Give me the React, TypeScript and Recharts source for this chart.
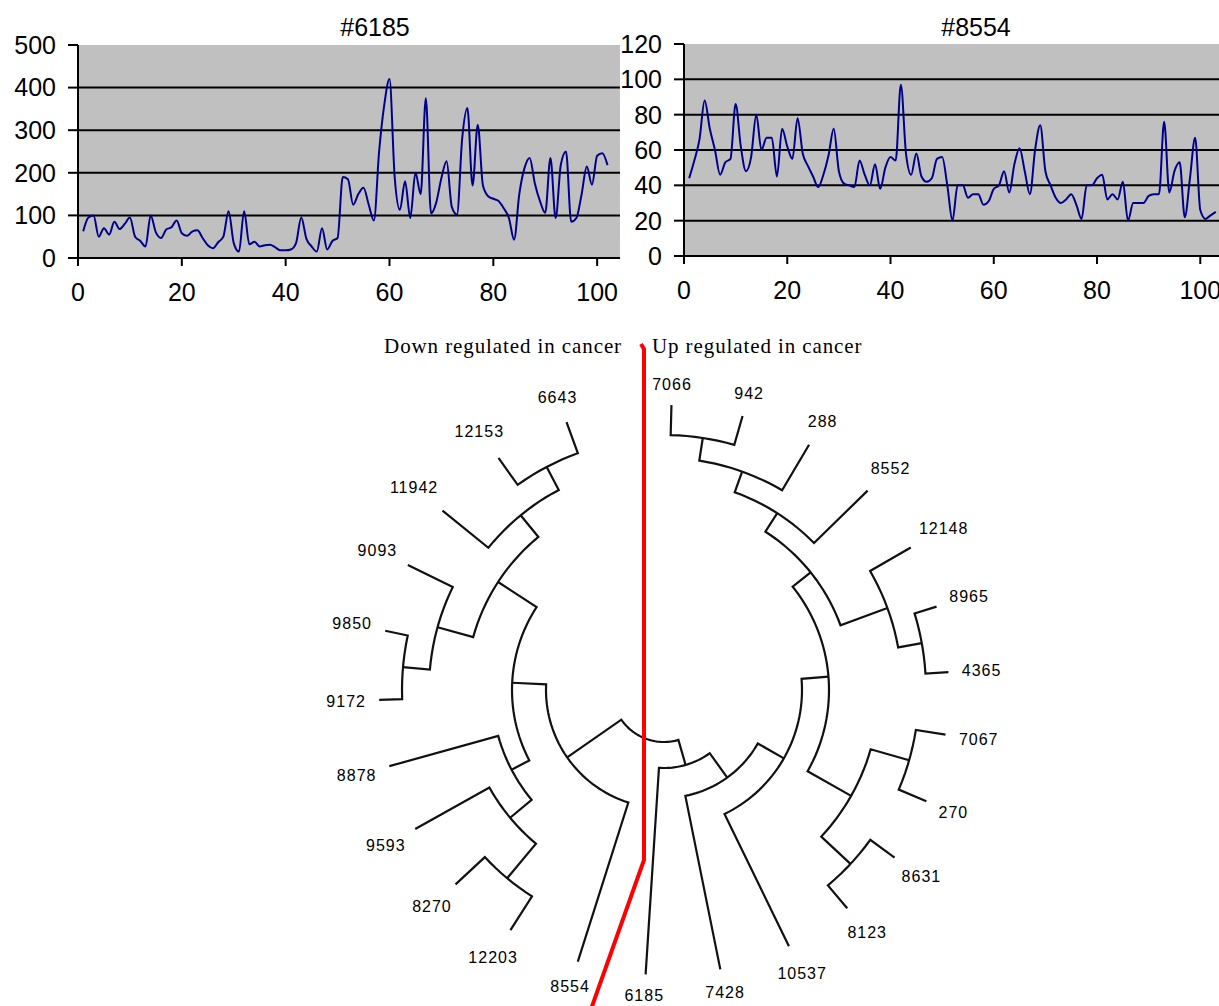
import React from "react";
import {
  LineChart,
  Line,
  XAxis,
  YAxis,
  CartesianGrid,
  ScatterChart,
  Scatter,
} from "recharts";

// profile values, one per position (1..n)
const PROFILE_6185 = [
  63, 95, 100, 50, 70, 55, 85, 68, 80, 95,
  50, 40, 27, 100, 60, 47, 67, 72, 88, 58,
  52, 62, 65, 47, 30, 23, 37, 50, 110, 35,
  15, 110, 32, 38, 27, 30, 31, 25, 18, 18,
  20, 35, 95, 45, 27, 15, 70, 20, 40, 47,
  190, 185, 125, 150, 165, 125, 88, 250, 360, 420,
  190, 113, 180, 94, 200, 150, 375, 105, 130, 188,
  227, 120, 102, 280, 352, 170, 313, 170, 145, 139,
  134, 117, 94, 43, 150, 211, 235, 175, 133, 106,
  235, 94, 219, 250, 85, 94, 149, 215, 172, 240,
  246, 218,
];

const PROFILE_8554 = [
  44, 54, 66, 88, 72, 60, 46, 53, 55, 86,
  62, 48, 56, 80, 60, 67, 67, 45, 72, 62,
  55, 78, 58, 51, 45, 39, 46, 57, 72, 48,
  41, 40, 39, 54, 46, 40, 52, 38, 50, 56,
  54, 97, 58, 46, 58, 45, 42, 44, 55, 56,
  40, 20, 40, 40, 33, 35, 35, 29, 31, 38,
  40, 48, 36, 52, 61, 48, 35, 60, 74, 48,
  40, 33, 30, 32, 35, 29, 21, 40, 40, 44,
  46, 32, 35, 32, 42, 20, 30, 30, 30, 34,
  35, 35, 76, 36, 48, 53, 22, 44, 67, 26,
  21, 23, 25,
];

const X_TICKS = [0, 20, 40, 60, 80, 100];
const Y_TICKS_6185 = [0, 100, 200, 300, 400, 500];
const Y_TICKS_8554 = [0, 20, 40, 60, 80, 100, 120];

// dendrogram leaves, clockwise from the top, with their angles (degrees from north)
const LEAVES = [
  "7066", "942", "288", "8552", "12148", "8965", "4365", "7067", "270",
  "8631", "8123", "10537", "7428", "6185", "8554", "12203", "8270", "9593",
  "8878", "9172", "9850", "9093", "11942", "12153", "6643",
];
const LEAF_ANGLES = [
  1.5, 16, 30.6, 45.6, 60, 73, 86.4, 99, 113,
  126, 140, 154, 168.6, 183.7, 197.6, 212.6, 227, 240.8,
  254.5, 268, 282, 296, 309, 324.5, 340,
];
// [node, child A, child B, merge radius]
const MERGES: [string, string, string, number][] = [
  ["a1", "7066", "942", 255],
  ["a2", "a1", "288", 232],
  ["a3", "a2", "8552", 210],
  ["a4", "8965", "4365", 262],
  ["a5", "12148", "a4", 238],
  ["a6", "a3", "a5", 188],
  ["a7", "7067", "270", 255],
  ["a8", "8631", "8123", 255],
  ["a9", "a7", "a8", 215],
  ["a10", "a6", "a9", 165],
  ["a11", "a10", "10537", 138],
  ["a12", "a11", "7428", 108],
  ["a13", "a12", "6185", 78],
  ["b1", "12153", "6643", 252],
  ["b2", "11942", "b1", 226],
  ["b3", "9850", "9172", 262],
  ["b4", "9093", "b3", 235],
  ["b5", "b4", "b2", 198],
  ["b6", "8270", "12203", 245],
  ["b7", "9593", "b6", 200],
  ["b8", "8878", "b7", 172],
  ["b9", "b5", "b8", 152],
  ["b10", "b9", "8554", 118],
  ["root", "b10", "a13", 52],
];
// red divider between down- and up-regulated groups (dendrogram units)
const DIVIDER = [
  { x: -23, y: 346 },
  { x: -20, y: 341 },
  { x: -20, y: -170 },
  { x: -74, y: -322 },
];

const TIP_R = 285;
const CX = 664;
const CY = 690;
const SANS = "'Liberation Sans', Arial, sans-serif";

const polar = (r: number, deg: number) => {
  const t = (deg * Math.PI) / 180;
  return { x: r * Math.sin(t), y: r * Math.cos(t) };
};

function buildTree() {
  const ang: Record<string, number> = {};
  const rad: Record<string, number> = {};
  LEAVES.forEach((n, i) => {
    ang[n] = LEAF_ANGLES[i];
    rad[n] = TIP_R;
  });
  const paths: { x: number; y: number }[][] = [];
  MERGES.forEach(([id, a, b, r]) => {
    const a0 = ang[a];
    const a1 = ang[b];
    const pts = [polar(rad[a], a0)];
    const steps = Math.max(2, Math.ceil(Math.abs(a1 - a0) / 2));
    for (let s = 0; s <= steps; s++) pts.push(polar(r, a0 + ((a1 - a0) * s) / steps));
    pts.push(polar(rad[b], a1));
    paths.push(pts);
    ang[id] = (a0 + a1) / 2;
    rad[id] = r;
  });
  const labels = LEAVES.map((n, i) => {
    const t = (LEAF_ANGLES[i] * Math.PI) / 180;
    const hw = (n.length * 9.9) / 2;
    const r = 298 + Math.abs(Math.sin(t)) * hw + Math.abs(Math.cos(t)) * 7;
    return { ...polar(r, LEAF_ANGLES[i]), name: n };
  });
  return { paths, labels };
}

const Hidden = () => <g />;

function Profile({
  left,
  width,
  plotTop,
  plotBottom,
  values,
  yTicks,
  title,
  titleX,
}: {
  left: number;
  width: number;
  plotTop: number;
  plotBottom: number;
  values: number[];
  yTicks: number[];
  title: string;
  titleX: number;
}) {
  const data = values.map((v, i) => ({ x: i + 1, v }));
  const height = 330;
  const tick = { fill: "#000", fontSize: 25, fontFamily: SANS };
  return (
    <>
      <div
        style={{
          position: "absolute",
          left: titleX - 60,
          width: 120,
          top: 12,
          textAlign: "center",
          fontFamily: SANS,
          fontSize: 25,
          lineHeight: "30px",
          color: "#000",
        }}
      >
        {title}
      </div>
      <div style={{ position: "absolute", left, top: 0 }}>
        <LineChart
          width={width}
          height={height}
          data={data}
          margin={{ top: plotTop, right: 0, bottom: 0, left: 0 }}
        >
          <CartesianGrid
            vertical={false}
            horizontalValues={yTicks.slice(1, -1)}
            fill="#C0C0C0"
            fillOpacity={1}
            stroke="#000"
            strokeWidth={2}
          />
          <XAxis
            type="number"
            dataKey="x"
            domain={[0, 104.4]}
            allowDataOverflow
            ticks={X_TICKS}
            interval={0}
            height={height - plotBottom}
            tickSize={8}
            tickMargin={17}
            axisLine={{ stroke: "#000", strokeWidth: 2 }}
            tickLine={{ stroke: "#000", strokeWidth: 2 }}
            tick={tick}
          />
          <YAxis
            type="number"
            domain={[0, yTicks[yTicks.length - 1]]}
            ticks={yTicks}
            interval={0}
            width={78}
            tickSize={10}
            tickMargin={12}
            axisLine={{ stroke: "#000", strokeWidth: 2 }}
            tickLine={{ stroke: "#000", strokeWidth: 2 }}
            tick={tick}
          />
          <Line
            type="monotone"
            dataKey="v"
            stroke="#00008B"
            strokeWidth={2}
            dot={false}
            isAnimationActive={false}
          />
        </LineChart>
      </div>
    </>
  );
}

function Dendrogram() {
  const { paths, labels } = buildTree();
  const left = 320;
  const top = 330;
  const w = 720;
  const h = 676;
  return (
    <div style={{ position: "absolute", left, top }}>
      <ScatterChart width={w} height={h} margin={{ top: 0, right: 0, bottom: 0, left: 0 }}>
        <XAxis type="number" dataKey="x" hide domain={[left - CX, left + w - CX]} allowDataOverflow />
        <YAxis type="number" dataKey="y" hide domain={[CY - (top + h), CY - top]} allowDataOverflow />
        {paths.map((pts, i) => (
          <Scatter
            key={i}
            data={pts}
            fill="#111"
            line={{ stroke: "#111", strokeWidth: 2.2 }}
            shape={Hidden}
            isAnimationActive={false}
          />
        ))}
        <Scatter
          data={DIVIDER}
          fill="#ff0000"
          line={{ stroke: "#ff0000", strokeWidth: 4 }}
          shape={Hidden}
          isAnimationActive={false}
        />
        <Scatter
          data={labels}
          fill="#000"
          isAnimationActive={false}
          shape={(p: any) => (
            <text
              x={p.cx}
              y={p.cy}
              textAnchor="middle"
              dominantBaseline="central"
              fontFamily={SANS}
              fontSize={16}
              letterSpacing={1}
              fill="#000"
            >
              {p.payload.name}
            </text>
          )}
        />
      </ScatterChart>
    </div>
  );
}

const header: React.CSSProperties = {
  position: "absolute",
  top: 336,
  fontFamily: "'Liberation Serif', 'Times New Roman', serif",
  fontSize: 21,
  lineHeight: "20px",
  letterSpacing: 0.9,
  color: "#000",
  whiteSpace: "nowrap",
};

export default function App() {
  return (
    <div
      style={{
        position: "absolute",
        left: 0,
        top: 0,
        width: 1219,
        height: 1006,
        overflow: "hidden",
        background: "#fff",
      }}
    >
      <Profile
        left={0}
        width={620}
        plotTop={45}
        plotBottom={258}
        values={PROFILE_6185}
        yTicks={Y_TICKS_6185}
        title="#6185"
        titleX={375}
      />
      <Profile
        left={606}
        width={617}
        plotTop={44}
        plotBottom={256}
        values={PROFILE_8554}
        yTicks={Y_TICKS_8554}
        title="#8554"
        titleX={976}
      />
      <Dendrogram />
      <div style={{ ...header, left: 0, width: 622, textAlign: "right" }}>
        Down regulated in cancer
      </div>
      <div style={{ ...header, left: 652 }}>Up regulated in cancer</div>
    </div>
  );
}
